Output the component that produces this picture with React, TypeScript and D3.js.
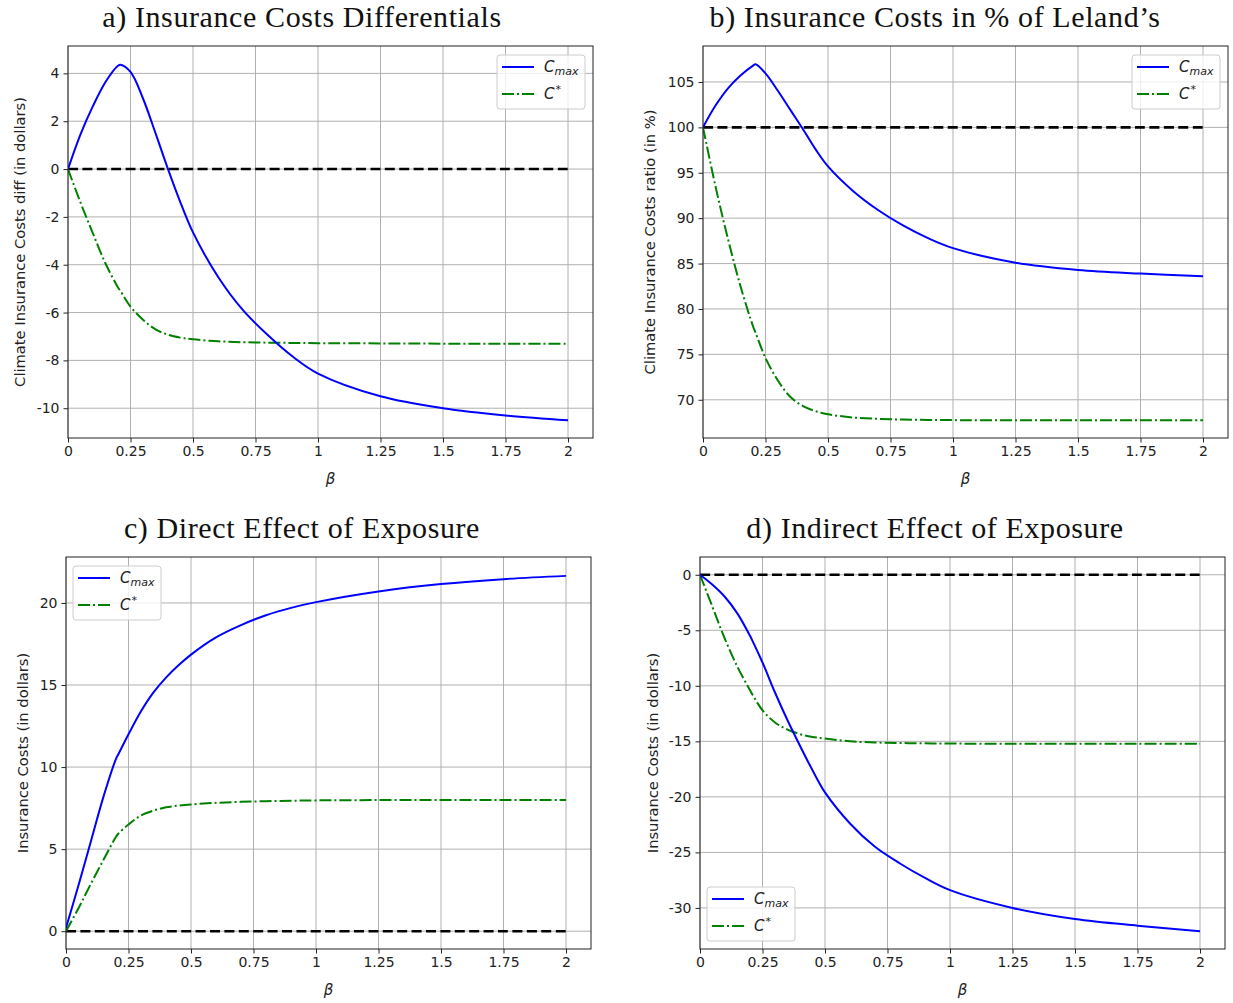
import * as d3 from "d3";
import { useEffect, useRef } from "react";

// beta grid shared by all four panels
const beta = [0, 0.05, 0.1, 0.15, 0.2, 0.21, 0.25, 0.3, 0.35, 0.4, 0.45, 0.5, 0.6, 0.7, 0.8, 0.9, 1.0, 1.25, 1.5, 1.75, 2.0];

// a) differentials
const diffMax = [0, 1.45, 2.64, 3.64, 4.32, 4.36, 4.06, 2.95, 1.5, 0, -1.4, -2.65, -4.5, -5.9, -6.95, -7.85, -8.55, -9.5, -10.0, -10.3, -10.5];
const diffStar = [0, -1.4, -2.7, -3.95, -4.95, -5.1, -5.75, -6.3, -6.7, -6.93, -7.05, -7.12, -7.2, -7.24, -7.26, -7.27, -7.28, -7.29, -7.3, -7.3, -7.3];

// b) ratio to Leland (%)
const ratioMax = [100, 102.4, 104.3, 105.7, 106.8, 106.95, 105.95, 104.0, 101.9, 99.8, 97.6, 95.7, 93.0, 90.9, 89.2, 87.8, 86.7, 85.1, 84.3, 83.9, 83.6];
const ratioStar = [100, 93.5, 87.7, 82.5, 78.1, 77.4, 74.6, 72.1, 70.3, 69.3, 68.75, 68.4, 68.05, 67.9, 67.82, 67.78, 67.76, 67.75, 67.75, 67.75, 67.75];

// c) direct effect
const directMax = [0.2, 2.8, 5.5, 8.2, 10.5, 10.8, 12.0, 13.4, 14.55, 15.45, 16.2, 16.85, 17.9, 18.65, 19.25, 19.7, 20.05, 20.7, 21.15, 21.45, 21.65];
const directStar = [0, 1.4, 2.9, 4.35, 5.75, 5.95, 6.5, 7.05, 7.35, 7.55, 7.65, 7.72, 7.82, 7.88, 7.92, 7.95, 7.97, 7.99, 8.0, 8.0, 8.0];

// d) indirect effect
const indirectMax = [0, -0.9, -2.0, -3.5, -5.5, -5.95, -7.9, -10.6, -13.1, -15.4, -17.6, -19.6, -22.4, -24.5, -26.0, -27.3, -28.4, -30.0, -31.0, -31.6, -32.1];
const indirectStar = [0, -2.9, -5.8, -8.3, -10.4, -10.8, -12.2, -13.3, -13.95, -14.35, -14.6, -14.75, -15.0, -15.1, -15.15, -15.18, -15.2, -15.22, -15.22, -15.22, -15.22];

const xTicks = [0, 0.25, 0.5, 0.75, 1, 1.25, 1.5, 1.75, 2];
const xTickLabels = ["0", "0.25", "0.5", "0.75", "1", "1.25", "1.5", "1.75", "2"];

const panels = [
  {
    title: "a) Insurance Costs Differentials", titleX: 302, titleY: 27,
    left: 68, top: 46, yDomain: [-11.245, 5.145], yTicks: [-10, -8, -6, -4, -2, 0, 2, 4],
    ylabel: "Climate Insurance Costs diff (in dollars)", ylabelX: 19,
    cmax: diffMax, cstar: diffStar, base: 0, legend: "ur",
  },
  {
    title: "b) Insurance Costs in % of Leland\u2019s", titleX: 935, titleY: 27,
    left: 703, top: 46, yDomain: [65.79, 108.96], yTicks: [70, 75, 80, 85, 90, 95, 100, 105],
    ylabel: "Climate Insurance Costs ratio (in %)", ylabelX: 649,
    cmax: ratioMax, cstar: ratioStar, base: 100, legend: "ur",
  },
  {
    title: "c) Direct Effect of Exposure", titleX: 302, titleY: 538,
    left: 66, top: 557, yDomain: [-1.085, 22.8], yTicks: [0, 5, 10, 15, 20],
    ylabel: "Insurance Costs (in dollars)", ylabelX: 22,
    cmax: directMax, cstar: directStar, base: 0, legend: "ul",
  },
  {
    title: "d) Indirect Effect of Exposure", titleX: 935, titleY: 538,
    left: 700, top: 557, yDomain: [-33.7, 1.6], yTicks: [-30, -25, -20, -15, -10, -5, 0],
    ylabel: "Insurance Costs (in dollars)", ylabelX: 652,
    cmax: indirectMax, cstar: indirectStar, base: 0, legend: "ll",
  },
];

const W = 525;
const H = 392;
const FONT = "DejaVu Sans, sans-serif";

function drawPanel(svg: any, p: any, idx: number) {
  const x = d3.scaleLinear().domain([0, 2.1]).range([p.left, p.left + W]);
  const y = d3.scaleLinear().domain(p.yDomain).range([p.top + H, p.top]);
  const g = svg.append("g");

  const clipId = "clip" + idx;
  g.append("clipPath").attr("id", clipId)
    .append("rect").attr("x", p.left).attr("y", p.top).attr("width", W).attr("height", H);

  // grid
  g.append("g").selectAll("line").data(xTicks).join("line")
    .attr("x1", (d: number) => x(d)).attr("x2", (d: number) => x(d))
    .attr("y1", p.top).attr("y2", p.top + H)
    .attr("stroke", "#b0b0b0").attr("stroke-width", 1);
  g.append("g").selectAll("line").data(p.yTicks).join("line")
    .attr("y1", (d: number) => y(d)).attr("y2", (d: number) => y(d))
    .attr("x1", p.left).attr("x2", p.left + W)
    .attr("stroke", "#b0b0b0").attr("stroke-width", 1);

  const plot = g.append("g").attr("clip-path", `url(#${clipId})`);
  const mk = (vals: number[]) =>
    d3.line<number>().x((_, i) => x(beta[i])).y((d) => y(d)).curve(d3.curveCatmullRom.alpha(0.5))(vals);

  plot.append("path").attr("d", mk(beta.map(() => p.base)))
    .attr("fill", "none").attr("stroke", "black").attr("stroke-width", 2.6)
    .attr("stroke-dasharray", "10,4.4");
  plot.append("path").attr("d", mk(p.cstar))
    .attr("fill", "none").attr("stroke", "green").attr("stroke-width", 2)
    .attr("stroke-dasharray", "12,3,2,3");
  plot.append("path").attr("d", mk(p.cmax))
    .attr("fill", "none").attr("stroke", "blue").attr("stroke-width", 2);

  // axes
  const xa = g.append("g").attr("transform", `translate(0,${p.top + H})`)
    .call(d3.axisBottom(x).tickValues(xTicks).tickFormat((_: any, i: number) => xTickLabels[i]).tickSize(4.5).tickPadding(4));
  const ya = g.append("g").attr("transform", `translate(${p.left},0)`)
    .call(d3.axisLeft(y).tickValues(p.yTicks).tickFormat((d: any) => String(d)).tickSize(4.5).tickPadding(4));
  [xa, ya].forEach((a) => {
    a.select(".domain").remove();
    a.selectAll("text").attr("font-family", FONT).attr("font-size", 14).attr("fill", "#222");
    a.selectAll("line").attr("stroke", "#222");
  });

  g.append("rect").attr("x", p.left).attr("y", p.top).attr("width", W).attr("height", H)
    .attr("fill", "none").attr("stroke", "#222").attr("stroke-width", 1);

  // labels
  g.append("text").attr("x", p.left + W / 2).attr("y", p.top + H + 46)
    .attr("text-anchor", "middle").attr("font-family", FONT).attr("font-style", "italic")
    .attr("font-size", 15).attr("fill", "#222").text("\u03b2");
  g.append("text").attr("transform", `translate(${p.ylabelX},${p.top + H / 2}) rotate(-90)`)
    .attr("text-anchor", "middle").attr("dominant-baseline", "central")
    .attr("font-family", FONT).attr("font-size", 14.7).attr("fill", "#222").text(p.ylabel);
  g.append("text").attr("x", p.titleX).attr("y", p.titleY).attr("text-anchor", "middle")
    .attr("font-family", "Liberation Serif, serif").attr("font-size", 30)
    .attr("letter-spacing", 0.6).attr("fill", "#111").text(p.title);

  // legend
  const lw = 88, lh = 54;
  const lx = p.legend === "ur" ? p.left + W - 8 - lw : p.left + 7;
  const ly = p.legend === "ll" ? p.top + H - 8 - lh : p.top + 9;
  const leg = g.append("g").attr("transform", `translate(${lx},${ly})`);
  leg.append("rect").attr("width", lw).attr("height", lh).attr("rx", 3)
    .attr("fill", "white").attr("fill-opacity", 0.8).attr("stroke", "#cccccc");
  const entries = [
    { color: "blue", dash: null, key: "max" },
    { color: "green", dash: "12,3,2,3", key: "star" },
  ];
  entries.forEach((e, i) => {
    const cy = 12 + i * 27;
    leg.append("line").attr("x1", 5).attr("x2", 37).attr("y1", cy).attr("y2", cy)
      .attr("stroke", e.color).attr("stroke-width", 2).attr("stroke-dasharray", e.dash);
    const t = leg.append("text").attr("x", 47).attr("y", cy + 5)
      .attr("font-family", FONT).attr("font-size", 15).attr("fill", "#222");
    t.append("tspan").attr("font-style", "italic").text("C");
    if (e.key === "max") {
      t.append("tspan").attr("font-style", "italic").attr("font-size", 11).attr("dy", 3).text("max");
    } else {
      t.append("tspan").attr("font-size", 11).attr("dy", -6).attr("dx", 1).text("*");
    }
  });
}

function App() {
  const svgRef = useRef<SVGSVGElement>(null);

  useEffect(() => {
    const svg = d3.select(svgRef.current);
    svg.selectAll("*").remove();
    panels.forEach((p, i) => drawPanel(svg, p, i));
  }, []);

  return (
    <svg ref={svgRef} width={1233} height={1003}
      style={{ position: "absolute", left: 0, top: 0, background: "white" }} />
  );
}

export default App;
